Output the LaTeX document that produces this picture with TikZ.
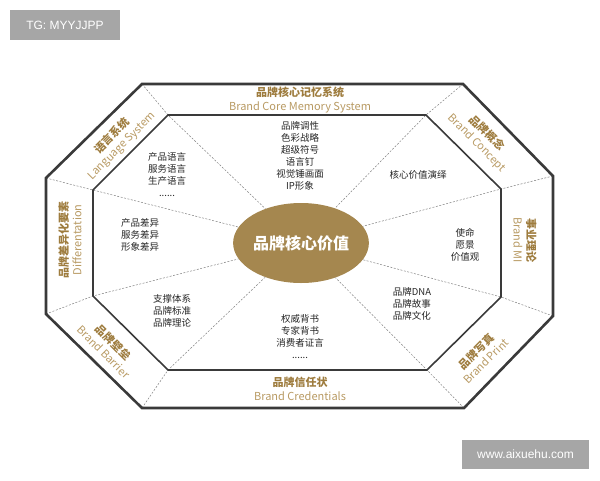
\documentclass[tikz,border=0pt]{standalone}
\usepackage{fontspec}
\setmainfont{Noto Sans CJK SC}
\newfontfamily\wmfont{Liberation Sans}
\usepackage{xcolor}
\usetikzlibrary{shapes.geometric}
\definecolor{gold}{HTML}{A5874F}
\definecolor{goldtxt}{HTML}{9E7C3E}
\definecolor{goldlt}{HTML}{B89A63}
\definecolor{frame}{HTML}{3A3A3A}

\begin{document}
\begin{tikzpicture}
  [x=1pt,y=-1pt,
   band/.style={align=center,inner sep=0pt,font=\fontsize{11}{13.5}\selectfont},
   item/.style={align=center,inner sep=0pt,text=black!85,font=\fontsize{9.5}{12}\selectfont},
   spoke/.style={gray,line width=0.5pt,dash pattern=on 2pt off 1.5pt},
   wm/.style={fill=black!35,text=white,inner sep=0pt,font=\wmfont\fontsize{12}{14}\selectfont}]
  \useasboundingbox (0,0) rectangle (600,480);

  \coordinate (o1) at (142,84);  \coordinate (i1) at (168,115);
  \coordinate (o2) at (463,84);  \coordinate (i2) at (426,115);
  \coordinate (o3) at (553,176); \coordinate (i3) at (501,189);
  \coordinate (o4) at (553,316); \coordinate (i4) at (501,297);
  \coordinate (o5) at (464,408); \coordinate (i5) at (427,370);
  \coordinate (o6) at (142,408); \coordinate (i6) at (168,370);
  \coordinate (o7) at (46,314);  \coordinate (i7) at (93,296);
  \coordinate (o8) at (46,178);  \coordinate (i8) at (93,190);

  \node[ellipse,fill=gold,minimum width=130pt,minimum height=80pt,inner sep=0pt,
        text=white,font=\fontsize{16}{18}\selectfont\bfseries] (core) at (301,243) {品牌核心价值};

\foreach \k in {1,...,8}
    \draw[spoke] (o\k) -- (i\k) -- (core);

  \draw[frame,line width=2.6pt,line join=miter] (o1) -- (o2) -- (o3) -- (o4) -- (o5) -- (o6) -- (o7) -- (o8) -- cycle;
  \draw[frame,line width=1.6pt,line join=miter] (i1) -- (i2) -- (i3) -- (i4) -- (i5) -- (i6) -- (i7) -- (i8) -- cycle;

  % band titles
  \node[band] (memory) at (300,100) {{\bfseries\color{goldtxt}品牌核心记忆系统}\\{\color{goldlt}Brand Core Memory System}};
  \node[band] (trust) at (300,389) {{\bfseries\color{goldtxt}品牌信任状}\\{\color{goldlt}Brand Credentials}};
  \node[band,rotate=90] (diff) at (70,240) {{\bfseries\color{goldtxt}品牌差异化要素}\\{\color{goldlt}Differentation}};
  \node[band,rotate=-90] (mi) at (525,240) {{\bfseries\color{goldtxt}事业理论}\\{\color{goldlt}Brand MI}};
  \node[band,rotate=45] (lang) at (117,141) {{\bfseries\color{goldtxt}语言系统}\\{\color{goldlt}Language System}};
  \node[band,rotate=-45] (concept) at (482,138) {{\bfseries\color{goldtxt}品牌概念}\\{\color{goldlt}Brand Concept}};
  \node[band,rotate=-45] (barrier) at (109,347) {{\bfseries\color{goldtxt}品牌壁垒}\\{\color{goldlt}Brand Barrier}};
  \node[band,rotate=45] (print) at (481,356) {{\bfseries\color{goldtxt}品牌写真}\\{\color{goldlt}Brand Print}};

  % sector contents
  \node[item] (tone) at (300,156) {品牌调性\\色彩战略\\超级符号\\语言钉\\视觉锤画面\\IP形象};
  \node[item] (speech) at (167,175) {产品语言\\服务语言\\生产语言\\......};
  \node[item] (gap) at (140,235) {产品差异\\服务差异\\形象差异};
  \node[item] (support) at (172,311) {支撑体系\\品牌标准\\品牌理论};
  \node[item] (endorse) at (300,337) {权威背书\\专家背书\\消费者证言\\......};
  \node[item,align=left] (dna) at (412,304) {品牌DNA\\品牌故事\\品牌文化};
  \node[item] (mission) at (465,245) {使命\\愿景\\价值观};
  \node[item] (deduce) at (418,175) {核心价值演绎};

  \node[wm,minimum width=110pt,minimum height=30pt] (tg) at (65,25) {TG: MYYJJPP};
  \node[wm,minimum width=127pt,minimum height=29pt] (site) at (525.5,454.5) {www.aixuehu.com};
\end{tikzpicture}
\end{document}
